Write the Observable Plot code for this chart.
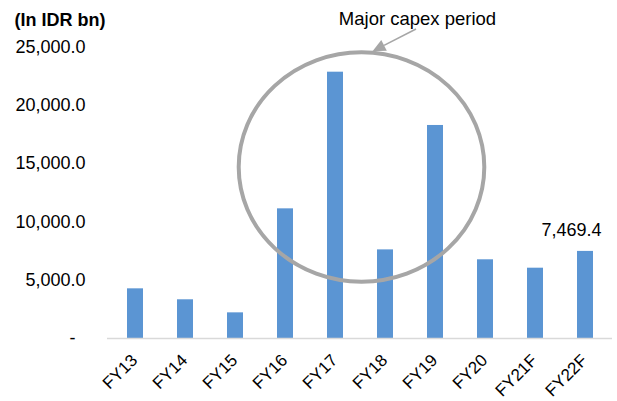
<!DOCTYPE html>
<html>
<head>
<meta charset="utf-8">
<script src="https://cdn.jsdelivr.net/npm/d3@7"></script>
<script src="https://cdn.jsdelivr.net/npm/@observablehq/plot@0.6"></script>
<style>
  html, body { margin: 0; padding: 0; background: #fff; }
  #chart { width: 617px; height: 401px; }
</style>
</head>
<body>
<div id="chart"></div>
<script>
// ---- data ----
const years = ["FY13", "FY14", "FY15", "FY16", "FY17", "FY18", "FY19", "FY20", "FY21F", "FY22F"];
const capex = [4260, 3320, 2200, 11120, 22840, 7600, 18270, 6750, 6030, 7469.4];
const yTicks = [5000, 10000, 15000, 20000, 25000];
const labelledYears = ["FY22F"];
const titleText = "(In IDR bn)";
const noteText = "Major capex period";

const rows = years.map((year, i) => ({year, value: capex[i]}));
const fmt = d3.format(",.1f");

// annotation geometry (ellipse round FY16–FY19, arrow from the note)
const note = {year: "FY18", yValue: 26850, dx: 32};
const ellipse = {between: ["FY17", "FY18"], cyValue: 14665, cxOffset: 1.5, rx: 122.8, ryValue: 9836};

const grey = "#A6A6A6";
const blue = "#5B95D3";
const font = "'Liberation Sans', Arial, sans-serif";

function bandCenter(x, v) {
  return x(v) + (x.bandwidth ? x.bandwidth() / 2 : 0);
}

function annotation(index, scales) {
  const x = scales.x, y = scales.y;
  const g = d3.create("svg:g");
  const cx = (bandCenter(x, ellipse.between[0]) + bandCenter(x, ellipse.between[1])) / 2 + ellipse.cxOffset;
  const cy = y(ellipse.cyValue);
  const ry = y(0) - y(ellipse.ryValue);
  g.append("ellipse")
    .attr("cx", cx).attr("cy", cy)
    .attr("rx", ellipse.rx).attr("ry", ry)
    .attr("fill", "none").attr("stroke", grey).attr("stroke-width", 4);
  // arrow from the note text toward the top of the ellipse
  const nx = bandCenter(x, note.year) + note.dx;
  const x1 = nx - 1, y1 = y(note.yValue) + 4;
  const x2 = cx + 11, y2 = cy - ry - 1;
  const ang = Math.atan2(y2 - y1, x2 - x1);
  const L = 13, W = 6;
  const bx = x2 - L * Math.cos(ang), by = y2 - L * Math.sin(ang);
  g.append("line")
    .attr("x1", x1).attr("y1", y1).attr("x2", bx).attr("y2", by)
    .attr("stroke", grey).attr("stroke-width", 1.6);
  g.append("polygon")
    .attr("points", [
      [x2, y2],
      [bx + W * Math.sin(ang), by - W * Math.cos(ang)],
      [bx - W * Math.sin(ang), by + W * Math.cos(ang)]
    ].map(p => p.join(",")).join(" "))
    .attr("fill", grey);
  return g.node();
}

const chart = Plot.plot({
  width: 617,
  height: 401,
  marginLeft: 107,
  marginRight: 5,
  marginTop: 46.5,
  marginBottom: 63,
  style: {fontFamily: font, fontSize: "18px", color: "#000", background: "#fff", overflow: "visible"},
  x: {domain: years, paddingInner: 0.69, paddingOuter: 0.345, align: 0.5, label: null},
  y: {domain: [0, 25000], label: null},
  marks: [
    Plot.barY(rows, {x: "year", y: "value", fill: blue}),
    Plot.ruleY([0], {stroke: "#D9D9D9", strokeWidth: 1.5}),
    Plot.axisY(yTicks, {tickSize: 0, tickPadding: 22, tickFormat: fmt, fontSize: 18, fill: "#000", label: null}),
    Plot.axisY([0], {tickSize: 0, tickPadding: 32, tickFormat: () => "-", fontSize: 18, fill: "#000", label: null}),
    Plot.axisX({tickSize: 0, tickPadding: 19, tickRotate: -45, fontSize: 17, fill: "#000", dx: -1, label: null}),
    Plot.text(rows.filter(d => labelledYears.includes(d.year)), {
      x: "year", y: "value", text: d => fmt(d.value),
      dx: -14, dy: -15, lineAnchor: "bottom", fontSize: 18, fill: "#000"
    }),
    Plot.text([noteText], {
      x: () => note.year, y: () => note.yValue, text: d => d,
      dx: note.dx, lineAnchor: "bottom", fontSize: 18.5, fill: "#000"
    }),
    Plot.text([titleText], {
      frameAnchor: "top-left", text: d => d, dx: -93, dy: -21,
      textAnchor: "start", lineAnchor: "bottom", fontSize: 18, fontWeight: "bold", fill: "#000"
    }),
    annotation
  ]
});
document.getElementById("chart").appendChild(chart);
</script>
</body>
</html>
